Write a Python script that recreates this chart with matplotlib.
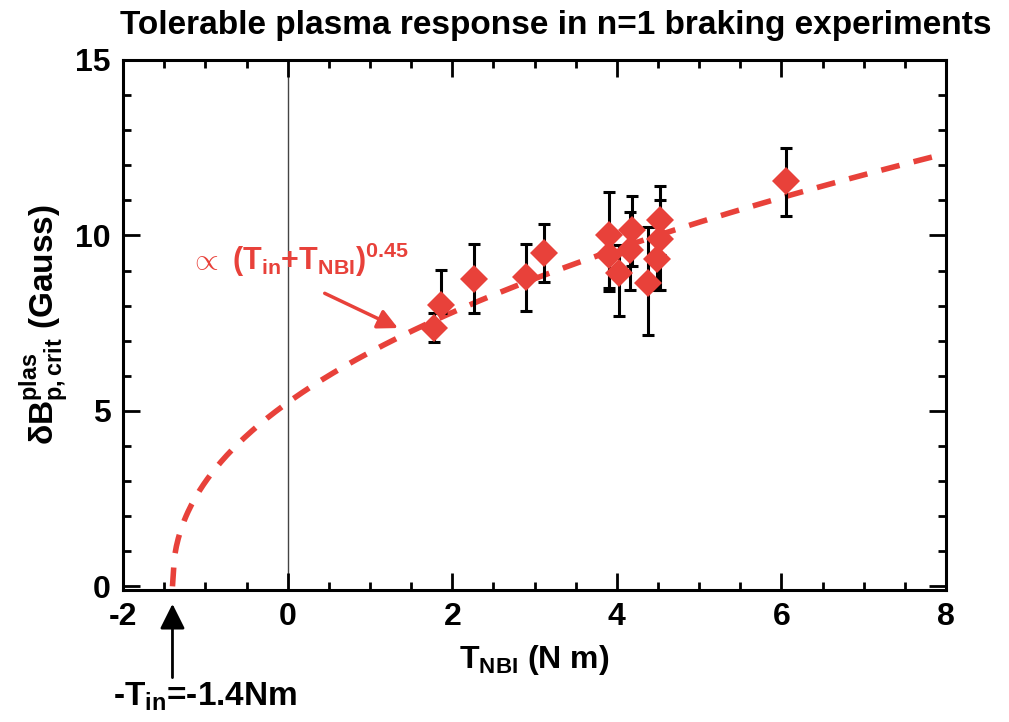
import numpy as np
import matplotlib
matplotlib.use("Agg")
import matplotlib.pyplot as plt

plt.rcParams['font.family'] = ['Liberation Sans', 'DejaVu Sans']
plt.rcParams['font.weight'] = 'bold'
plt.rcParams['axes.unicode_minus'] = False
plt.rcParams['mathtext.fontset'] = 'custom'
plt.rcParams['mathtext.rm'] = 'Liberation Sans:bold'
plt.rcParams['mathtext.bf'] = 'Liberation Sans:bold'
plt.rcParams['mathtext.it'] = 'Liberation Sans:bold'
plt.rcParams['mathtext.sf'] = 'Liberation Sans:bold'
plt.rcParams['mathtext.default'] = 'rm'

# Data (T_NBI in N m, dB in Gauss)
t_nbi = [1.78, 1.86, 2.26, 2.90, 3.12, 3.91, 3.91, 4.03, 4.18, 4.16, 4.38, 4.52, 4.53, 4.49, 6.06]
db_crit = [7.35, 8.02, 8.77, 8.82, 9.51, 10.0, 9.43, 8.92, 10.14, 9.58, 8.63, 10.43, 9.91, 9.34, 11.54]
err_lo = [0.40, 0.24, 0.99, 0.97, 0.85, 1.51, 1.0, 1.23, 1.0, 1.14, 1.46, 1.0, 1.47, 0.90, 0.99]
err_hi = [0.43, 0.99, 0.99, 0.94, 0.81, 1.23, 0.6, 0.8, 0.99, 1.08, 1.61, 0.99, 1.09, 0.9, 0.96]

# Fit curve: dB = C * (T_in + T_NBI)^0.45
T_in = 1.4
expo = 0.45
coef = 4.5

red = '#E8413A'

fig = plt.figure(figsize=(10.09, 7.22), dpi=100)
ax = fig.add_axes([0.122, 0.183, 0.8156, 0.734])

xf = np.linspace(-T_in, 8.0, 400)
yf = coef * (xf + T_in) ** expo
ax.plot(xf, yf, color=red, lw=4, dashes=(3.4, 2.6), zorder=2)

ax.axvline(0, color='#444444', lw=1.0, zorder=1)

ax.errorbar(t_nbi, db_crit, yerr=[err_lo, err_hi], fmt='none', ecolor='black',
            elinewidth=2.2, capsize=4, capthick=2.2, zorder=3)
ax.plot(t_nbi, db_crit, 'D', color=red, markersize=14, markeredgewidth=0, zorder=4)

ax.set_xlim(-2, 8)
ax.set_ylim(-0.1, 15)
ax.set_xticks([-2, 0, 2, 4, 6, 8])
ax.set_yticks([0, 5, 10, 15])
ax.set_xticks(np.arange(-2, 8.01, 0.5), minor=True)
ax.set_yticks(np.arange(0, 15.01, 1), minor=True)
ax.tick_params(which='both', direction='in', top=True, right=True, width=2)
ax.tick_params(which='major', length=12, labelsize=23, pad=9)
ax.tick_params(which='minor', length=6)
for lab in ax.get_xticklabels() + ax.get_yticklabels():
    lab.set_fontweight('bold')
for s in ax.spines.values():
    s.set_linewidth(2.2)

fig.text(0.551, 0.965, 'Tolerable plasma response in n=1 braking experiments',
         fontsize=24, fontweight='bold', ha='center', va='center')
ax.set_xlabel(r'$\mathrm{T_{NBI}}$ (N m)', fontsize=23, fontweight='bold', labelpad=8)
ax.set_ylabel(r'$\delta\mathrm{B^{plas}_{p,crit}}$ (Gauss)', fontsize=24,
              fontweight='bold', labelpad=2)

ax.text(-1.2, 9.3,
        r'$\propto$ (T$_{\mathrm{in}}$+T$_{\mathrm{NBI}}$)$^{\mathrm{0.45}}$',
        color=red, fontsize=22, fontweight='bold', va='center', ha='left')
ax.annotate('', xy=(1.34, 7.36), xytext=(0.45, 8.35),
            arrowprops=dict(arrowstyle='-|>', color=red, lw=2.5,
                            mutation_scale=30, shrinkA=0, shrinkB=0))

ax.annotate('', xy=(-1.4, -0.5), xytext=(-1.4, -2.6),
            xycoords='data', textcoords='data', annotation_clip=False,
            arrowprops=dict(arrowstyle='-|>', color='black', lw=2,
                            mutation_scale=38, shrinkA=0, shrinkB=0))
ax.text(-1.0, -2.68, r'-T$_{\mathrm{in}}$=-1.4Nm', fontsize=24, fontweight='bold',
        ha='center', va='top', clip_on=False)

fig.savefig('out.png', dpi=100)
